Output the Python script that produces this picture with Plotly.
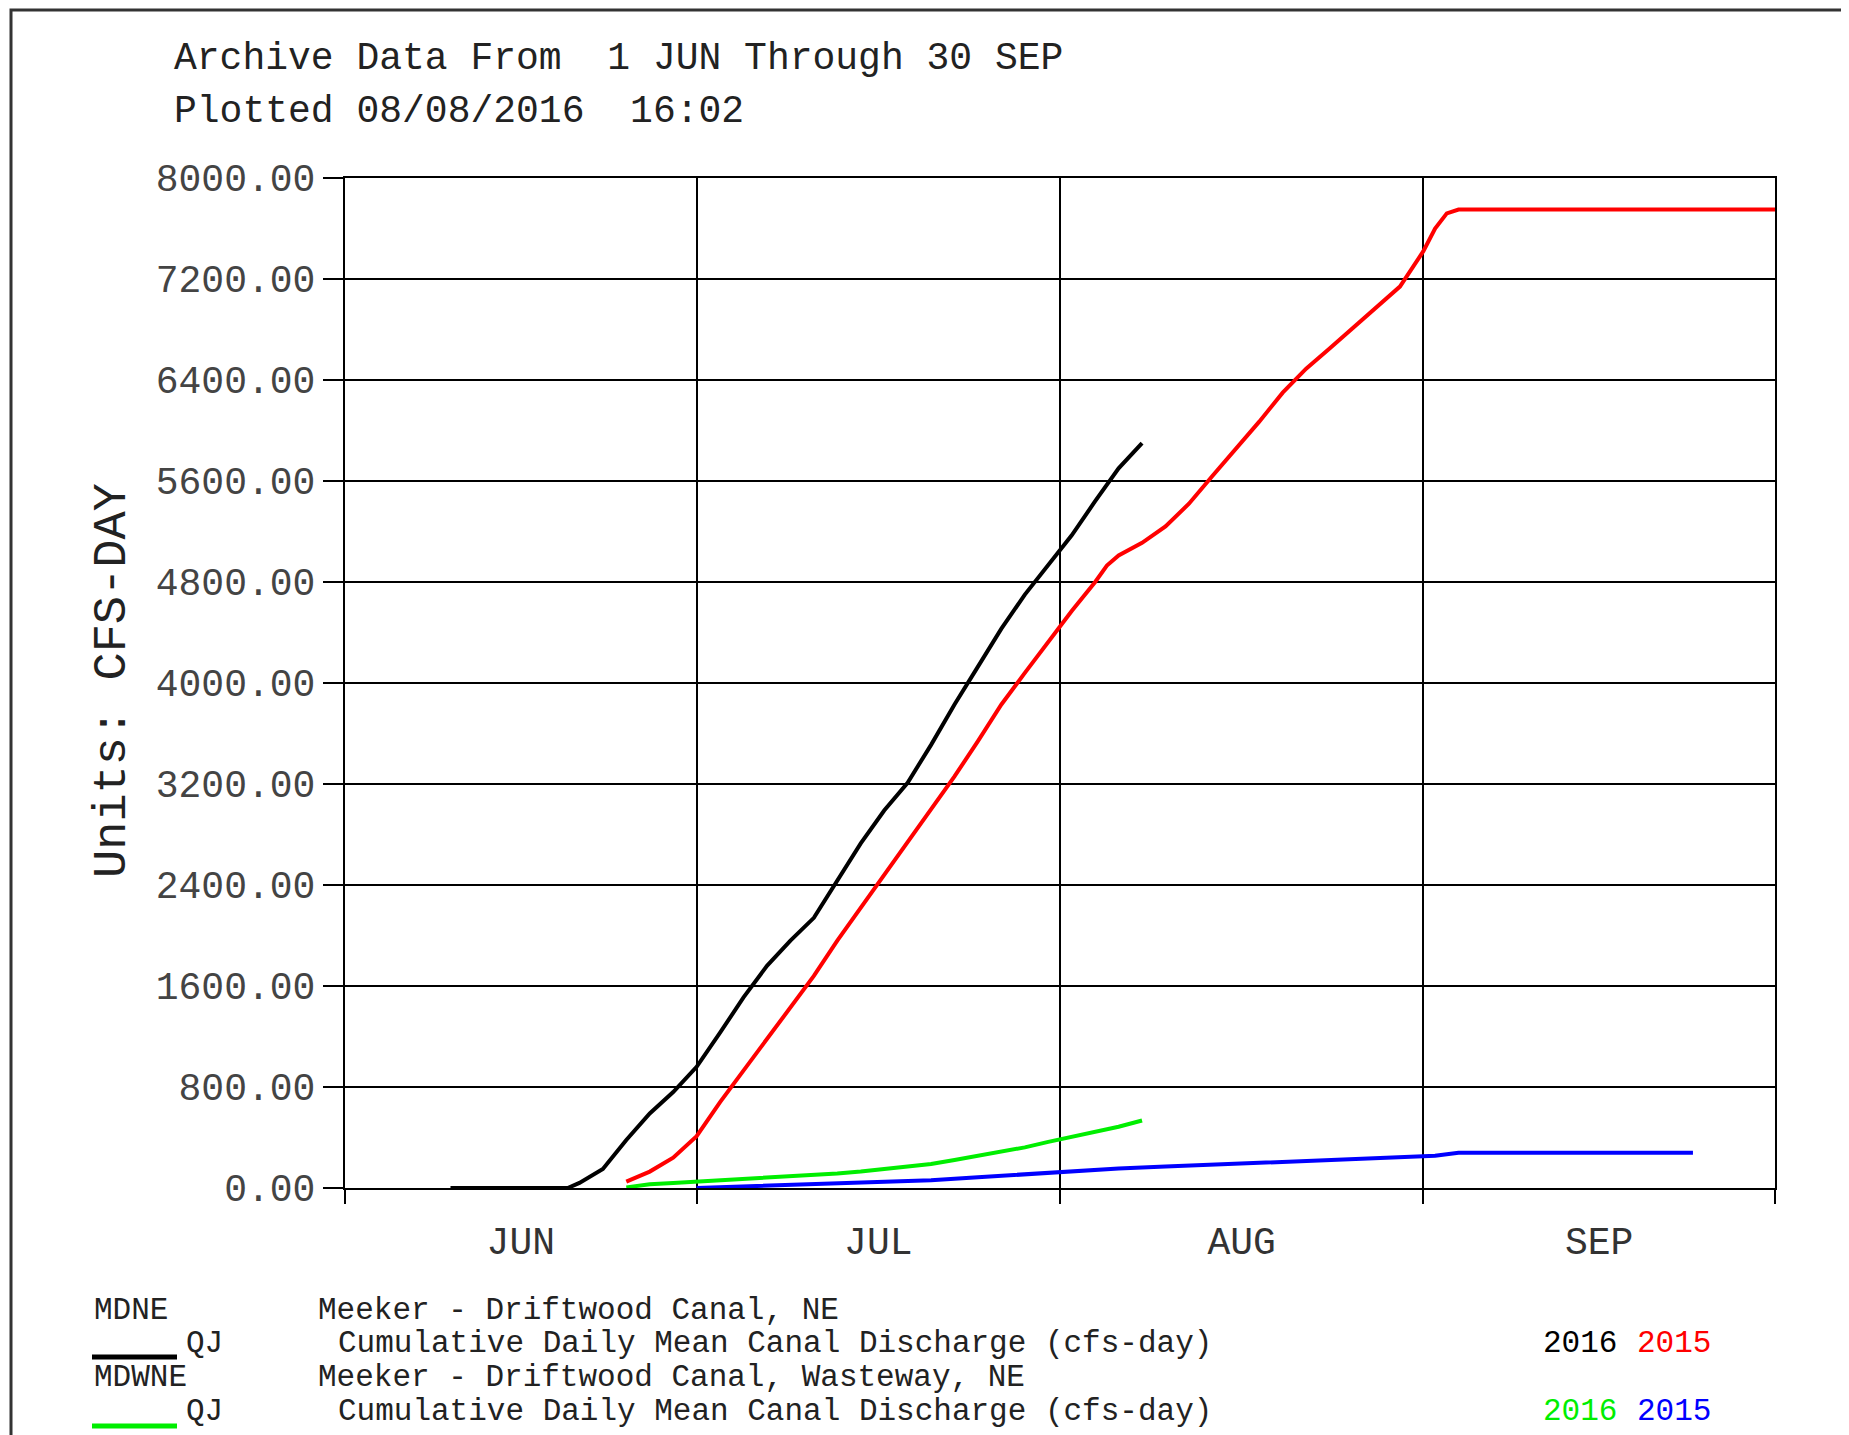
import pandas as pd
import plotly.graph_objects as go

# days counted from 1 JUN, values in cfs-day
mdne_2016_days = [9, 19, 20, 22, 24, 26, 28, 30, 32, 34, 36, 38, 40, 42, 44, 46, 48,
                  50, 52, 54, 56, 58, 60, 62, 64, 66, 68]
mdne_2016_vals = [0, 0, 40, 150, 380, 590, 760, 960, 1230, 1510, 1760, 1960, 2140, 2440,
                  2730, 2990, 3210, 3510, 3830, 4130, 4430, 4700, 4940, 5170, 5440, 5700, 5900]

mdne_2015_days = [24, 26, 28, 30, 32, 34, 36, 38, 40, 42, 44, 46, 48, 50, 52, 54, 56, 58,
                  60, 62, 64, 65, 66, 68, 70, 72, 74, 76, 78, 80, 82, 84, 86, 88, 90, 92,
                  93, 94, 95, 122]
mdne_2015_vals = [50, 130, 240, 410, 680, 930, 1180, 1420, 1680, 1960, 2220, 2480, 2740,
                  3000, 3260, 3540, 3830, 4080, 4330, 4570, 4800, 4930, 5010, 5110, 5240,
                  5420, 5640, 5850, 6070, 6300, 6490, 6650, 6810, 6970, 7140, 7420, 7600,
                  7720, 7750, 7750]

mdwne_2016_days = [24, 26, 28, 30, 32, 34, 36, 38, 40, 42, 44, 46, 48, 50, 52, 54, 56, 58,
                   60, 62, 64, 66, 68]
mdwne_2016_vals = [5, 30, 40, 50, 62, 75, 85, 95, 105, 115, 130, 148, 165, 190, 222, 255,
                   290, 322, 365, 405, 440, 485, 535]

mdwne_2015_days = [30, 34, 38, 42, 46, 50, 54, 58, 62, 66, 70, 74, 78, 82, 86, 90, 93, 95, 115]
mdwne_2015_vals = [0, 12, 22, 32, 45, 62, 85, 108, 132, 155, 170, 185, 198, 212, 225, 240,
                   255, 280, 280]

month_starts = ["2016-06-01", "2016-07-01", "2016-08-01", "2016-09-01", "2016-10-01"]
month_mids = ["2016-06-16", "2016-07-16 12:00", "2016-08-16 12:00", "2016-09-16"]
month_labels = ["JUN", "JUL", "AUG", "SEP"]
y_ticks = [0, 800, 1600, 2400, 3200, 4000, 4800, 5600, 6400, 7200, 8000]

START = pd.Timestamp("2016-06-01")
MONO = "Liberation Mono"


def to_dates(days):
    return [START + pd.Timedelta(days=d) for d in days]


fig = go.Figure()
series = [(mdne_2016_days, mdne_2016_vals, "#000000", "MDNE 2016"),
          (mdne_2015_days, mdne_2015_vals, "#ff0000", "MDNE 2015"),
          (mdwne_2015_days, mdwne_2015_vals, "#0000ff", "MDWNE 2015"),
          (mdwne_2016_days, mdwne_2016_vals, "#00ee00", "MDWNE 2016")]
for days, vals, col, name in series:
    fig.add_trace(go.Scatter(x=to_dates(days), y=vals, mode="lines",
                             line=dict(color=col, width=4), name=name, showlegend=False))

fig.update_xaxes(type="date", range=[month_starts[0], month_starts[-1]],
                 tickmode="array", tickvals=month_mids, ticktext=month_labels,
                 ticks="", ticklabelstandoff=18, showgrid=False,
                 tickfont=dict(family=MONO, size=38, color="#333"),
                 showline=True, linecolor="black", linewidth=2, mirror=True,
                 minor=dict(tickmode="array", tickvals=month_starts, ticks="outside",
                            ticklen=14, tickwidth=2, tickcolor="black",
                            showgrid=True, gridcolor="black", gridwidth=2))
fig.update_yaxes(range=[0, 8000], tickmode="array", tickvals=y_ticks, tickformat=".2f",
                 ticks="outside", ticklen=20, tickwidth=2, tickcolor="black",
                 tickfont=dict(family=MONO, size=38, color="#444"),
                 showgrid=True, gridcolor="black", gridwidth=2, zeroline=False,
                 showline=True, linecolor="black", linewidth=2, mirror=True)

# paper coords: on screen the plot area spans 345..1775 px across, 178..1188 px down
def px(x):
    return (x - 345) / 1430


def py(y):
    return (1188 - y) / 1010


def note(text, x, y, size, color="#222", angle=0, xanchor="left"):
    fig.add_annotation(text=text, xref="paper", yref="paper", x=px(x), y=py(y),
                       xanchor=xanchor, yanchor="middle", showarrow=False, textangle=angle,
                       font=dict(family=MONO, size=size, color=color))


note("Archive Data From\u00a0\u00a01 JUN Through 30 SEP", 172, 59, 38)
note("Plotted 08/08/2016\u00a0\u00a016:02", 172, 112, 38)
note("Units: CFS-DAY", 112, 680, 47, angle=-90, xanchor="center")

# legend block at the bottom
note("MDNE", 92, 1310, 31)
note("Meeker - Driftwood Canal, NE", 316, 1310, 31)
note("QJ", 184, 1343, 31)
note("Cumulative Daily Mean Canal Discharge (cfs-day)", 336, 1343, 31)
note("2016", 1541, 1343, 31, color="#000000")
note("2015", 1635, 1343, 31, color="#ff0000")
note("MDWNE", 92, 1377, 31)
note("Meeker - Driftwood Canal, Wasteway, NE", 316, 1377, 31)
note("QJ", 184, 1411, 31)
note("Cumulative Daily Mean Canal Discharge (cfs-day)", 336, 1411, 31)
note("2016", 1541, 1411, 31, color="#00ee00")
note("2015", 1635, 1411, 31, color="#0000ff")

fig.add_shape(type="line", xref="paper", yref="paper", x0=px(92), x1=px(177),
              y0=py(1357), y1=py(1357), line=dict(color="black", width=5))
fig.add_shape(type="line", xref="paper", yref="paper", x0=px(92), x1=px(177),
              y0=py(1426), y1=py(1426), line=dict(color="#00ee00", width=5))

# outer frame
fig.add_shape(type="rect", xref="paper", yref="paper", x0=px(11), x1=px(1843),
              y0=py(1460), y1=py(10), line=dict(color="#333", width=3))

# the page adds an 8px body margin, so margins are trimmed by 8 to keep the plot in place
fig.update_layout(width=1849, height=1435, plot_bgcolor="white", paper_bgcolor="white",
                  margin=dict(l=337, r=82, t=170, b=255), showlegend=False)

fig.write_html("out.html")
